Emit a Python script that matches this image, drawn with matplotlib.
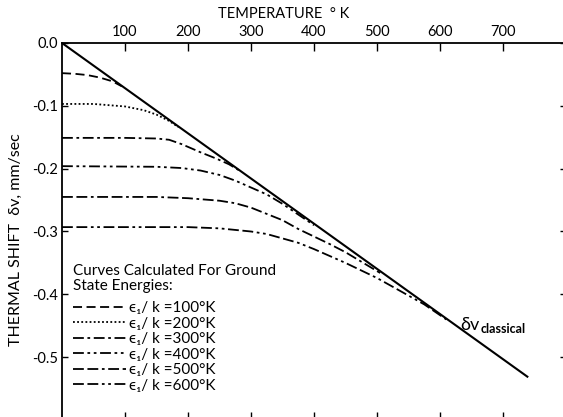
import matplotlib
matplotlib.use("Agg")
import matplotlib.pyplot as plt

plt.rcParams['font.family'] = ['Lato', 'DejaVu Sans']

# classical line
t_classical = [0, 740]
v_classical = [0.0, -0.532]

# curves for ground state energies eps1/k = 100 ... 600 K
t_100 = [0, 20, 40, 60, 80, 95]
v_100 = [-0.048, -0.049, -0.051, -0.055, -0.061, -0.069]

t_200 = [0, 50, 100, 130, 150, 170, 185]
v_200 = [-0.097, -0.097, -0.101, -0.107, -0.114, -0.124, -0.134]

t_300 = [0, 100, 150, 170, 190, 220, 245, 265, 285]
v_300 = [-0.151, -0.151, -0.152, -0.154, -0.161, -0.174, -0.184, -0.193, -0.205]

t_400 = [0, 150, 190, 220, 250, 275, 300, 325, 350, 375, 400]
v_400 = [-0.196, -0.197, -0.199, -0.203, -0.210, -0.219, -0.230, -0.241, -0.256, -0.273, -0.290]

t_500 = [0, 150, 200, 250, 275, 300, 325, 350, 375, 400, 425, 450, 475, 505]
v_500 = [-0.245, -0.245, -0.247, -0.251, -0.255, -0.262, -0.272, -0.282, -0.296, -0.308,
         -0.320, -0.333, -0.348, -0.366]

t_600 = [0, 200, 250, 300, 325, 350, 375, 400, 450, 500, 550, 575, 610]
v_600 = [-0.293, -0.293, -0.295, -0.300, -0.304, -0.311, -0.318, -0.328, -0.350, -0.374,
         -0.402, -0.416, -0.440]

labels = ['ϵ₁/ k =100°K', 'ϵ₁/ k =200°K', 'ϵ₁/ k =300°K',
          'ϵ₁/ k =400°K', 'ϵ₁/ k =500°K', 'ϵ₁/ k =600°K']

x_ticks = [100, 200, 300, 400, 500, 600, 700]
y_ticks = [0.0, -0.1, -0.2, -0.3, -0.4, -0.5]
y_ticklabels = ['0.0', '-0.1', '-0.2', '-0.3', '-0.4', '-0.5']

styles = [(0, (5, 2.5)),
          (0, (1, 1.3)),
          (0, (6, 2, 1.5, 2)),
          (0, (6, 2, 1.5, 2, 1.5, 2)),
          (0, (6, 2, 6, 2, 1.5, 2)),
          (0, (6, 2, 6, 2, 1.5, 2, 1.5, 2))]

fig = plt.figure(figsize=(5.63, 4.17), dpi=100)
ax = fig.add_axes([62 / 563, -3 / 417, 504 / 563, 377 / 417])

ax.plot(t_classical, v_classical, color='black', lw=1.5, solid_capstyle='butt')

curves = [(t_100, v_100), (t_200, v_200), (t_300, v_300),
          (t_400, v_400), (t_500, v_500), (t_600, v_600)]
handles = []
for (t, v), ls, lab in zip(curves, styles, labels):
    ln, = ax.plot(t, v, color='black', lw=1.3, linestyle=ls, label=lab)
    handles.append(ln)

ax.set_xlim(0, 800)
ax.set_ylim(-0.6, 0)

ax.xaxis.tick_top()
ax.set_xticks(x_ticks)
ax.set_xticklabels([str(x) for x in x_ticks], fontsize=10.5)
ax.tick_params(axis='x', which='both', direction='in', length=6, width=1,
               top=True, bottom=True, labeltop=True, labelbottom=False, pad=3)
ax.set_yticks(y_ticks)
ax.set_yticklabels(y_ticklabels, fontsize=10.5)
ax.tick_params(axis='y', direction='in', length=4, width=1, left=True, right=True, pad=3)
for s in ax.spines.values():
    s.set_linewidth(1.3)

fig.text(284 / 563, 1 - 14 / 417, 'TEMPERATURE  ° K', ha='center', va='center', fontsize=10.5)
fig.text(16 / 563, 1 - 240 / 417, 'THERMAL SHIFT  δv, mm/sec', rotation=90,
         ha='center', va='center', fontsize=11.5)

ax.text(632, -0.457, 'δv', fontsize=13, ha='left', va='baseline')
ax.text(665, -0.462, 'classical', fontsize=9, fontweight='bold', ha='left', va='baseline')

fig.text(73 / 563, 1 - 264 / 417, 'Curves Calculated For Ground\nState Energies:',
         ha='left', va='top', fontsize=11, linespacing=1.05)

leg = ax.legend(handles=handles, loc='upper left', bbox_to_anchor=(73 / 563, 1 - 301 / 417),
                bbox_transform=fig.transFigure, frameon=False, fontsize=11,
                handlelength=3.5, handletextpad=0.15, labelspacing=0.1,
                borderpad=0, borderaxespad=0)

fig.savefig('out.png', dpi=100)
